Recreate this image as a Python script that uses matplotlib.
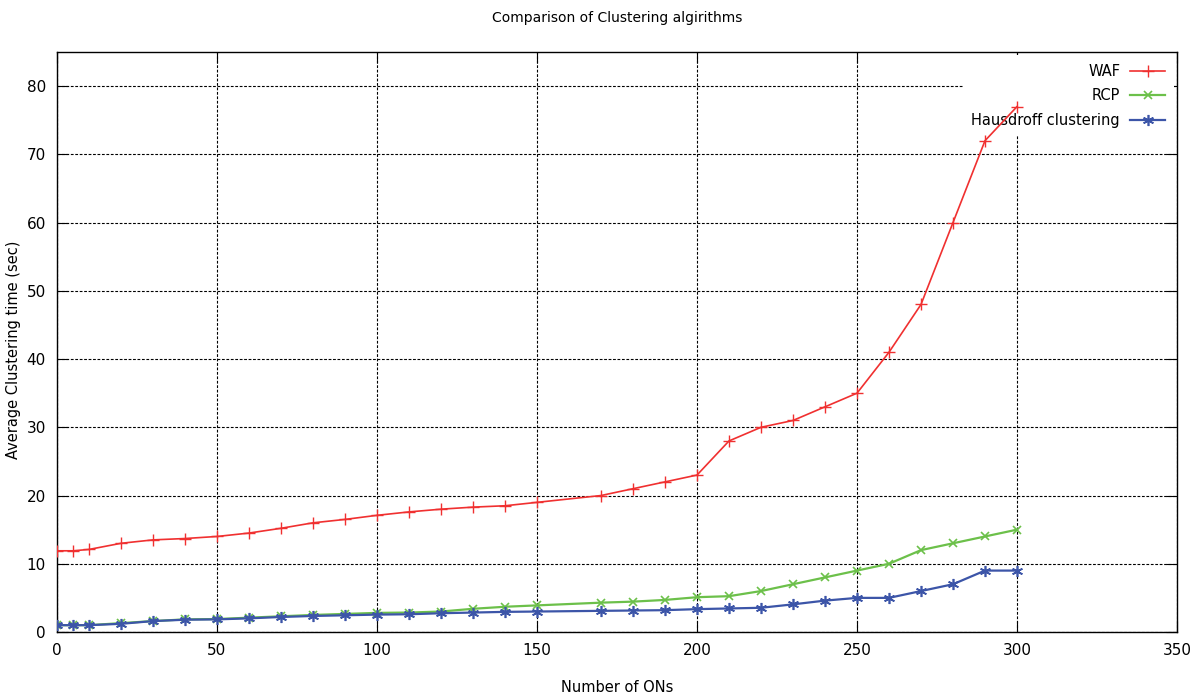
import numpy as np
import matplotlib.pyplot as plt

# number of ONs
x_waf = [0, 5, 10, 20, 30, 40, 50, 60, 70, 80, 90, 100, 110, 120, 130, 140, 150,
         170, 180, 190, 200, 210, 220, 230, 240, 250, 260, 270, 280, 290, 300]
x_other = x_waf

waf = [11.9, 11.9, 12.1, 13.0, 13.5, 13.7, 14.0, 14.5, 15.2, 16.0, 16.5, 17.1, 17.6, 18.0,
       18.3, 18.5, 19.0, 20.0, 21.0, 22.0, 23.0, 28.0, 30.0, 31.0, 33.0, 35.0, 41.0, 48.0,
       60.0, 72.0, 77.0]
rcp = [1.0, 1.0, 1.0, 1.3, 1.6, 1.85, 1.9, 2.1, 2.3, 2.5, 2.65, 2.8, 2.85, 3.0, 3.4, 3.7,
       3.9, 4.3, 4.45, 4.7, 5.1, 5.25, 6.0, 7.0, 8.0, 9.0, 10.0, 12.0, 13.0, 14.0, 15.0]
haus = [1.0, 1.0, 1.0, 1.2, 1.6, 1.8, 1.85, 2.0, 2.2, 2.35, 2.45, 2.55, 2.6, 2.75, 2.85,
        2.95, 3.0, 3.1, 3.15, 3.2, 3.35, 3.45, 3.55, 4.05, 4.6, 5.0, 5.0, 6.0, 7.0, 9.0, 9.0]

plt.rcParams['font.family'] = 'DejaVu Sans'

fig = plt.figure(figsize=(11.92, 7), dpi=100)
ax = fig.add_axes([57/1192, 68/700, 1120/1192, 580/700])

ax.plot(x_waf, waf, color='#f03030', lw=1.2, marker='+', ms=8, mew=1.0, label='WAF', zorder=3)
ax.plot(x_other, rcp, color='#6cc04a', lw=1.6, marker='x', ms=6, mew=1.2, label='RCP', zorder=3)
ax.plot(x_other, haus, color='#3c55a8', lw=1.6, marker=(6, 2, 0), ms=8, mew=1.2,
        label='Hausdroff clustering', zorder=3)

ax.set_xlim(0, 350)
ax.set_ylim(0, 85)
ax.set_xticks(np.arange(0, 351, 50))
ax.set_yticks(np.arange(0, 81, 10))
ax.tick_params(direction='in', top=True, right=True, length=8, labelsize=11, pad=8)
ax.grid(True, color='black', linestyle=(0, (2.5, 1.5)), linewidth=0.8)
for s in ax.spines.values():
    s.set_linewidth(1.0)

fig.text(617/1192, 1 - 18/700, 'Comparison of Clustering algirithms', fontsize=10,
         ha='center', va='center')
fig.text(617/1192, 1 - 688/700, 'Number of ONs', fontsize=10.5, ha='center', va='center')
fig.text(14/1192, 1 - 350/700, 'Average Clustering time (sec)', fontsize=10.5,
         rotation=90, ha='center', va='center')

leg = ax.legend(loc='upper right', markerfirst=False, frameon=True, fontsize=10.5,
                handlelength=2.4, borderaxespad=0.2, borderpad=0.6, labelspacing=0.65,
                handletextpad=0.7, fancybox=False)
leg.get_frame().set_edgecolor('none')
leg.get_frame().set_facecolor('white')
leg.get_frame().set_alpha(1)
for t in leg.get_texts():
    t.set_ha('right')
leg.set_zorder(2)

plt.savefig('out.png', dpi=100)
